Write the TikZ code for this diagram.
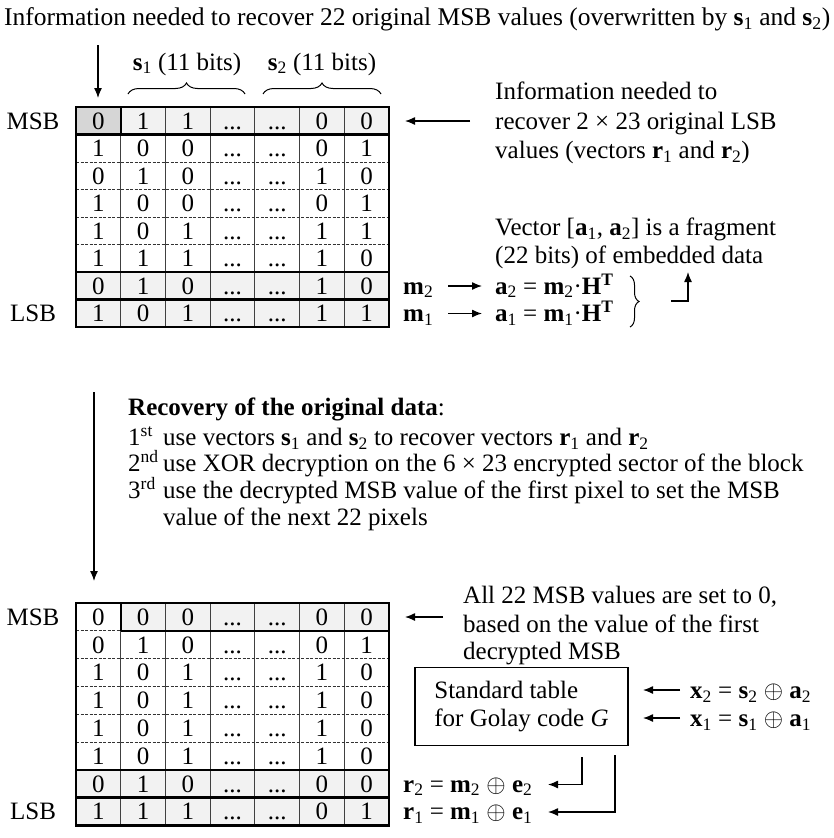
\documentclass[tikz,border=0pt]{standalone}
\usepackage{fontspec}
\setmainfont{Liberation Serif}
\usetikzlibrary{arrows.meta,decorations.pathreplacing,calc}
\definecolor{lgray}{HTML}{F2F2F2}
\definecolor{dgray}{HTML}{D6D6D6}
\newcommand\bv[2]{\textbf{#1}\textsubscript{#2}}
\begin{document}
\begin{tikzpicture}[x=1pt,y=-1pt,
  base/.style={font=\fontsize{25pt}{29.5pt}\selectfont, inner sep=0pt},
  cell/.style={base, text height=16.9pt, text depth=0pt, anchor=center},
  txt/.style={base, anchor=base west},
  arr/.style={line width=1.3pt, -{Latex[length=10pt,width=8pt]}},
  gthin/.style={line width=0.8pt, black!75},
  gdash/.style={line width=0.7pt, black!80, dash pattern=on 3pt off 1.5pt},
  gthick/.style={line width=2.4pt},
  gborder/.style={line width=2.8pt},
  brc/.style={decorate, decoration={brace, amplitude=11pt}, line width=1pt},
]
\useasboundingbox (0,0) rectangle (833,838);

% ---------- title ----------
\node[txt, font=\fontsize{25.5pt}{29.5pt}\selectfont] (title) at (4,25.5) {Information needed to recover 22 original MSB values (overwritten by \bv{s}{1} and \bv{s}{2})};
\coordinate (tarrS) at (98,45);
\coordinate (tarrE) at (98,98);
\draw[arr] (tarrS) -- (tarrE);

% braces
\coordinate (b1a) at (128,94); \coordinate (b1b) at (245,94);
\coordinate (b2a) at (263,94); \coordinate (b2b) at (381,94);
\draw[brc] (b1a) -- (b1b);
\draw[brc] (b2a) -- (b2b);
\node[txt, anchor=base] (s1lab) at (187,70) {\bv{s}{1} (11 bits)};
\node[txt, anchor=base] (s2lab) at (322,70) {\bv{s}{2} (11 bits)};

% ---------- top table ----------
\fill[lgray] (76,107) rectangle (389,134.5);
\fill[dgray] (76,107) rectangle (120.71,134.5);
\fill[lgray] (76,272) rectangle (389,327);
\foreach \k in {1,...,6} \draw[gthin] ({76+\k*44.714},107) -- ({76+\k*44.714},327);
\foreach \k in {2,...,5} \draw[gdash] (76,{107+\k*27.5}) -- (389,{107+\k*27.5});
\draw[gthick] (76,134.5) -- (389,134.5);
\draw[gthick] (120.71,107) -- (120.71,134.5);
\draw[gthick] (76,272) -- (389,272);
\draw[gthick] (76,299.5) -- (389,299.5);
\draw[gborder] (76,107) rectangle (389,327);
\foreach \row [count=\r] in {{0,1,1,0,0},{1,0,0,0,1},{0,1,0,1,0},{1,0,0,0,1},{1,0,1,1,1},{1,1,1,1,0},{0,1,0,1,0},{1,0,1,1,1}}{
  \foreach \v [count=\c] in \row {
    \pgfmathtruncatemacro\cc{\c>3 ? \c+2 : \c}
    \node[cell] (t-\r-\cc) at ({76+(\cc-0.5)*44.714},{107+(\r-0.5)*27.5}) {\v};
  }
  \node[cell] (t-\r-4) at ({76+3.5*44.714},{107+(\r-0.5)*27.5}) {...};
  \node[cell] (t-\r-5) at ({76+4.5*44.714},{107+(\r-0.5)*27.5}) {...};
}
\node[cell] (tmsb) at (33,120.75) {MSB};
\node[cell] (tlsb) at (33,313.25) {LSB};

% right side top
\coordinate (ra1) at (470,121);
\coordinate (ra2) at (405,121);
\draw[arr] (ra1) -- (ra2);
\node[txt] (inf1) at (495,99.5) {Information needed to};
\node[txt] (inf2) at (495,129.5) {recover 2 × 23 original LSB};
\node[txt] (inf3) at (495,158.5) {values (vectors \bv{r}{1} and \bv{r}{2})};
\node[txt] (vec1) at (495,235.5) {Vector [\bv{a}{1}, \bv{a}{2}] is a fragment};
\node[txt] (vec2) at (495,263.5) {(22 bits) of embedded data};

\node[txt] (m2) at (403,294.2) {\bv{m}{2}};
\node[txt] (m1) at (403,321.7) {\bv{m}{1}};
\node[txt] (a2) at (495,294.2) {\bv{a}{2} = \bv{m}{2}·\textbf{H}\textsuperscript{\textbf{T}}};
\node[txt] (a1) at (495,321.7) {\bv{a}{1} = \bv{m}{1}·\textbf{H}\textsuperscript{\textbf{T}}};
\coordinate (m2a) at (448,286); \coordinate (m2b) at (482,286);
\coordinate (m1a) at (448,313.5); \coordinate (m1b) at (482,313.5);
\draw[arr] (m2a) -- (m2b);
\draw[arr] (m1a) -- (m1b);
\coordinate (rb1) at (630,276); \coordinate (rb2) at (630,327);
\draw[brc, decoration={amplitude=9pt}] (rb1) -- (rb2);
\coordinate (ua1) at (671,301); \coordinate (ua2) at (688,301); \coordinate (ua3) at (688,272);
\draw[arr] (ua1) -- (ua2) -- (ua3);

% ---------- middle ----------
\coordinate (ma1) at (94,392); \coordinate (ma2) at (94,581);
\draw[arr] (ma1) -- (ma2);
\node[txt] (rec) at (128,415.5) {\textbf{Recovery of the original data}:};
\node[txt] (st1) at (128,445.5) {\makebox[35pt][l]{1\textsuperscript{st}}use vectors \bv{s}{1} and \bv{s}{2} to recover vectors \bv{r}{1} and \bv{r}{2}};
\node[txt] (st2) at (128,471.5) {\makebox[35pt][l]{2\textsuperscript{nd}}use XOR decryption on the 6 × 23 encrypted sector of the block};
\node[txt] (st3) at (128,498.5) {\makebox[35pt][l]{3\textsuperscript{rd}}use the decrypted MSB value of the first pixel to set the MSB};
\node[txt] (st4) at (163,525.5) {value of the next 22 pixels};

% ---------- bottom table ----------
\fill[lgray] (120.71,603) rectangle (389,630.8);
\fill[lgray] (76,769.8) rectangle (389,825.4);
\foreach \k in {1,...,6} \draw[gthin] ({76+\k*44.714},603) -- ({76+\k*44.714},825.4);
\foreach \k in {2,...,5} \draw[gdash] (76,{603+\k*27.8}) -- (389,{603+\k*27.8});
\draw[gdash] (76,630.8) -- (120.71,630.8);
\draw[gthick] (120.71,630.8) -- (389,630.8);
\draw[gthick] (120.71,603) -- (120.71,630.8);
\draw[gthick] (76,769.8) -- (389,769.8);
\draw[gthick] (76,797.6) -- (389,797.6);
\draw[gborder] (76,603) rectangle (389,825.4);
\foreach \row [count=\r] in {{0,0,0,0,0},{0,1,0,0,1},{1,0,1,1,0},{1,0,1,1,0},{1,0,1,1,0},{1,0,1,1,0},{0,1,0,0,0},{1,1,1,0,1}}{
  \foreach \v [count=\c] in \row {
    \pgfmathtruncatemacro\cc{\c>3 ? \c+2 : \c}
    \node[cell] (b-\r-\cc) at ({76+(\cc-0.5)*44.714},{603+(\r-0.5)*27.8}) {\v};
  }
  \node[cell] (b-\r-4) at ({76+3.5*44.714},{603+(\r-0.5)*27.8}) {...};
  \node[cell] (b-\r-5) at ({76+4.5*44.714},{603+(\r-0.5)*27.8}) {...};
}
\node[cell] (bmsb) at (33,616.9) {MSB};
\node[cell] (blsb) at (33,811.5) {LSB};

% bottom right
\coordinate (ba1) at (443,617); \coordinate (ba2) at (405,617);
\draw[arr] (ba1) -- (ba2);
\node[txt] (all1) at (463,603.5) {All 22 MSB values are set to 0,};
\node[txt] (all2) at (463,632.5) {based on the value of the first};
\node[txt] (all3) at (463,659.5) {decrypted MSB};

\node[base, draw, line width=1.2pt, minimum width=213pt, minimum height=78pt, align=left,
      font=\fontsize{25pt}{28pt}\selectfont] (golay) at (521.5,706.5) {Standard table\\for Golay code \textit{G}};
\node[txt] (x2) at (690,698.5) {\bv{x}{2} = \bv{s}{2} $\oplus$ \bv{a}{2}};
\node[txt] (x1) at (690,726.5) {\bv{x}{1} = \bv{s}{1} $\oplus$ \bv{a}{1}};
\coordinate (x2a) at (680,690); \coordinate (x2b) at (643,690);
\coordinate (x1a) at (680,718); \coordinate (x1b) at (643,718);
\draw[arr] (x2a) -- (x2b);
\draw[arr] (x1a) -- (x1b);

\node[txt] (r2) at (403,792.2) {\bv{r}{2} = \bv{m}{2} $\oplus$ \bv{e}{2}};
\node[txt] (r1) at (403,819.9) {\bv{r}{1} = \bv{m}{1} $\oplus$ \bv{e}{1}};
\coordinate (g1) at (582,757); \coordinate (g1c) at (582,784.5); \coordinate (g1e) at (548,784.5);
\coordinate (g2) at (615,755); \coordinate (g2c) at (615,812); \coordinate (g2e) at (548,812);
\draw[arr] (g1) -- (g1c) -- (g1e);
\draw[arr] (g2) -- (g2c) -- (g2e);
\end{tikzpicture}
\end{document}
